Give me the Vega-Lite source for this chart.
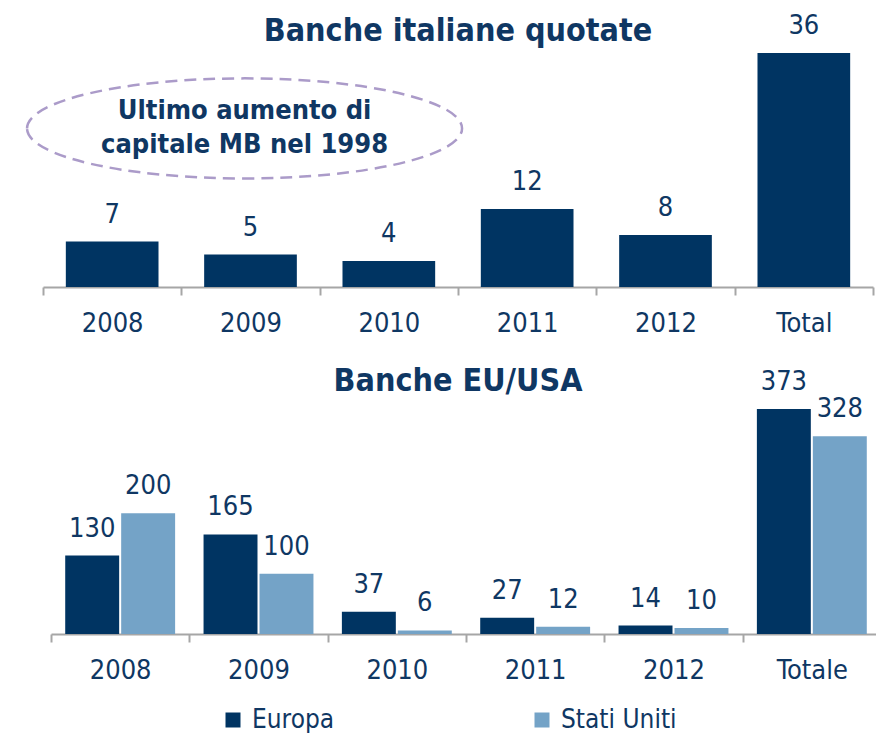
{
  "$schema": "https://vega.github.io/schema/vega-lite/v6.json",
  "background": "white",
  "padding": {"left": 22, "top": 12, "right": 0, "bottom": 0},
  "spacing": 122,
  "bounds": "flush",
  "config": {
    "font": "DejaVu Sans Condensed, DejaVu Sans",
    "view": {"stroke": null},
    "axisX": {
      "title": null,
      "labelAngle": 0,
      "tickBand": "extent",
      "domainColor": "#a6a6a6",
      "domainWidth": 2,
      "tickColor": "#a6a6a6",
      "tickWidth": 2,
      "tickSize": 8,
      "labelFontSize": 27,
      "labelColor": "#0f3763",
      "labelPadding": 15
    },
    "title": {"fontSize": 32, "fontWeight": "bold", "color": "#0f3763", "anchor": "middle", "baseline": "alphabetic"}
  },
  "vconcat": [
    {
      "width": 830,
      "height": 234,
      "title": {"text": "Banche italiane quotate", "offset": -36},
      "data": {"values": [
        {"anno": "2008", "valore": 7},
        {"anno": "2009", "valore": 5},
        {"anno": "2010", "valore": 4},
        {"anno": "2011", "valore": 12},
        {"anno": "2012", "valore": 8},
        {"anno": "Total", "valore": 36}
      ]},
      "layer": [
        {
          "mark": {"type": "bar", "color": "#003462", "width": {"band": 0.67}},
          "encoding": {
            "x": {"field": "anno", "type": "nominal", "scale": {"domain": ["2008", "2009", "2010", "2011", "2012", "Total"], "paddingInner": 0, "paddingOuter": 0}},
            "y": {"field": "valore", "type": "quantitative", "scale": {"domain": [0, 36], "nice": false, "zero": true}, "axis": null}
          }
        },
        {
          "mark": {"type": "text", "dy": -19, "baseline": "alphabetic", "fontSize": 27, "color": "#0f3763"},
          "encoding": {
            "x": {"field": "anno", "type": "nominal"},
            "y": {"field": "valore", "type": "quantitative"},
            "text": {"field": "valore", "type": "quantitative"}
          }
        },
        {
          "data": {"values": [{"nota": "Ultimo aumento di capitale MB nel 1998"}]},
          "mark": {"type": "point", "shape": "M-1,0A1,0.23,0,1,1,1,0A1,0.23,0,1,1,-1,0Z", "size": 189225, "filled": false, "stroke": "#ab9bc9", "strokeWidth": 2.5, "strokeDash": [12, 7], "opacity": 1},
          "encoding": {
            "x": {"datum": "2009", "bandPosition": 0.457},
            "y": {"datum": 24.4}
          }
        },
        {
          "data": {"values": [{"nota": "Ultimo aumento di capitale MB nel 1998"}]},
          "mark": {"type": "text", "text": ["Ultimo aumento di", "capitale MB nel 1998"], "fontSize": 27, "fontWeight": "bold", "lineHeight": 34, "baseline": "middle", "dy": -17, "color": "#0f3763"},
          "encoding": {
            "x": {"datum": "2009", "bandPosition": 0.457},
            "y": {"datum": 24.4}
          }
        }
      ]
    },
    {
      "width": 830,
      "height": 225,
      "title": {"text": "Banche EU/USA", "offset": -30},
      "data": {"values": [
        {"anno": "2008", "serie": "Europa", "valore": 130},
        {"anno": "2008", "serie": "Stati Uniti", "valore": 200},
        {"anno": "2009", "serie": "Europa", "valore": 165},
        {"anno": "2009", "serie": "Stati Uniti", "valore": 100},
        {"anno": "2010", "serie": "Europa", "valore": 37},
        {"anno": "2010", "serie": "Stati Uniti", "valore": 6},
        {"anno": "2011", "serie": "Europa", "valore": 27},
        {"anno": "2011", "serie": "Stati Uniti", "valore": 12},
        {"anno": "2012", "serie": "Europa", "valore": 14},
        {"anno": "2012", "serie": "Stati Uniti", "valore": 10},
        {"anno": "Totale", "serie": "Europa", "valore": 373},
        {"anno": "Totale", "serie": "Stati Uniti", "valore": 328}
      ]},
      "encoding": {
        "x": {"field": "anno", "type": "nominal", "scale": {"domain": ["2008", "2009", "2010", "2011", "2012", "Totale"], "paddingInner": 0, "paddingOuter": 0, "range": [8, 838]}},
        "xOffset": {"field": "serie", "type": "nominal", "scale": {"domain": ["Europa", "Stati Uniti"], "paddingInner": 0.036, "paddingOuter": 0.254}},
        "y": {"field": "valore", "type": "quantitative", "scale": {"domain": [0, 373], "nice": false}, "axis": null}
      },
      "layer": [
        {
          "mark": {"type": "bar"},
          "encoding": {
            "color": {
              "field": "serie", "type": "nominal",
              "scale": {"domain": ["Europa", "Stati Uniti"], "range": ["#003462", "#74a3c7"]},
              "legend": {"title": null, "orient": "none", "legendX": 177, "legendY": 654, "direction": "horizontal", "symbolType": "square", "symbolSize": 225, "symbolStrokeWidth": 0, "labelFontSize": 26, "labelColor": "#0f3763", "labelOffset": 6, "columnPadding": 194, "labelLimit": 300}
            }
          }
        },
        {
          "mark": {"type": "text", "dy": -19, "baseline": "alphabetic", "fontSize": 27, "color": "#0f3763"},
          "encoding": {"text": {"field": "valore", "type": "quantitative"}}
        }
      ]
    }
  ]
}
